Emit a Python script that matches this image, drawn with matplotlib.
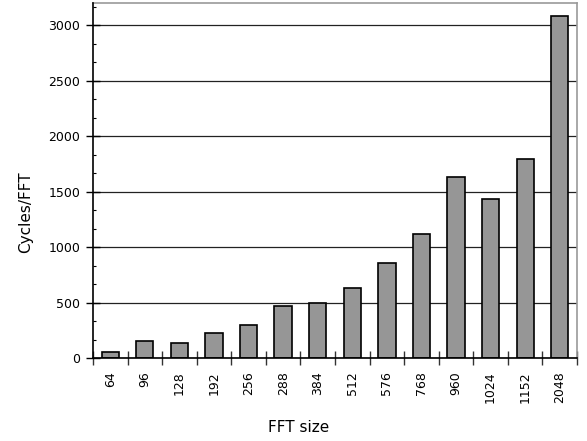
import numpy as np
import matplotlib
matplotlib.use("Agg")
import matplotlib.pyplot as plt
from matplotlib.ticker import MultipleLocator, FixedLocator

# data
fft_sizes = ["64", "96", "128", "192", "256", "288", "384", "512",
             "576", "768", "960", "1024", "1152", "2048"]
cycles = [50, 150, 135, 225, 300, 470, 495, 633,
          855, 1120, 1635, 1435, 1790, 3085]

fig = plt.figure(figsize=(5.87, 4.41), dpi=100)
ax = fig.add_axes([0.1584, 0.1882, 0.983 - 0.1584, 0.9932 - 0.1882])

x = np.arange(len(fft_sizes))
ax.bar(x, cycles, width=0.5, color="#969696", edgecolor="black",
       linewidth=1.2, zorder=3)

ax.set_xlim(-0.5, len(fft_sizes) - 0.5)
ax.set_ylim(0, 3200)

# grid lines every 500
ax.yaxis.set_major_locator(MultipleLocator(500))
ax.yaxis.set_minor_locator(MultipleLocator(500 / 3))
ax.grid(axis="y", which="major", color="#222222", linewidth=0.9, zorder=1)

# x ticks: separators between bars, labels at bar centres
ax.xaxis.set_major_locator(FixedLocator(np.arange(-0.5, len(fft_sizes), 1.0)))
ax.xaxis.set_major_formatter(plt.NullFormatter())
ax.xaxis.set_minor_locator(FixedLocator(x))
ax.set_xticklabels(fft_sizes, minor=True, rotation=90, fontsize=9)
ax.tick_params(axis="x", which="major", direction="inout", length=10.5,
               width=1, color="#333333")
ax.tick_params(axis="x", which="minor", length=0, pad=9.5)

ax.tick_params(axis="y", which="major", direction="inout", length=10,
               width=1, labelsize=9, pad=4.3)
ax.tick_params(axis="y", which="minor", direction="in", length=2.5, width=0.8)

for side in ["top", "right"]:
    ax.spines[side].set_color("#999999")
    ax.spines[side].set_linewidth(1.2)
for side in ["left", "bottom"]:
    ax.spines[side].set_color("black")
    ax.spines[side].set_linewidth(1.2)
    ax.spines[side].set_zorder(4)

ax.set_ylabel("Cycles/FFT", fontsize=11)
ax.set_xlabel("FFT size", fontsize=11)
ax.yaxis.set_label_coords(-0.14, 0.41)
ax.yaxis.label.set_va("center")
ax.xaxis.set_label_coords(0.424, -0.197)
ax.xaxis.label.set_va("center")

fig.savefig("out.png", dpi=100)
